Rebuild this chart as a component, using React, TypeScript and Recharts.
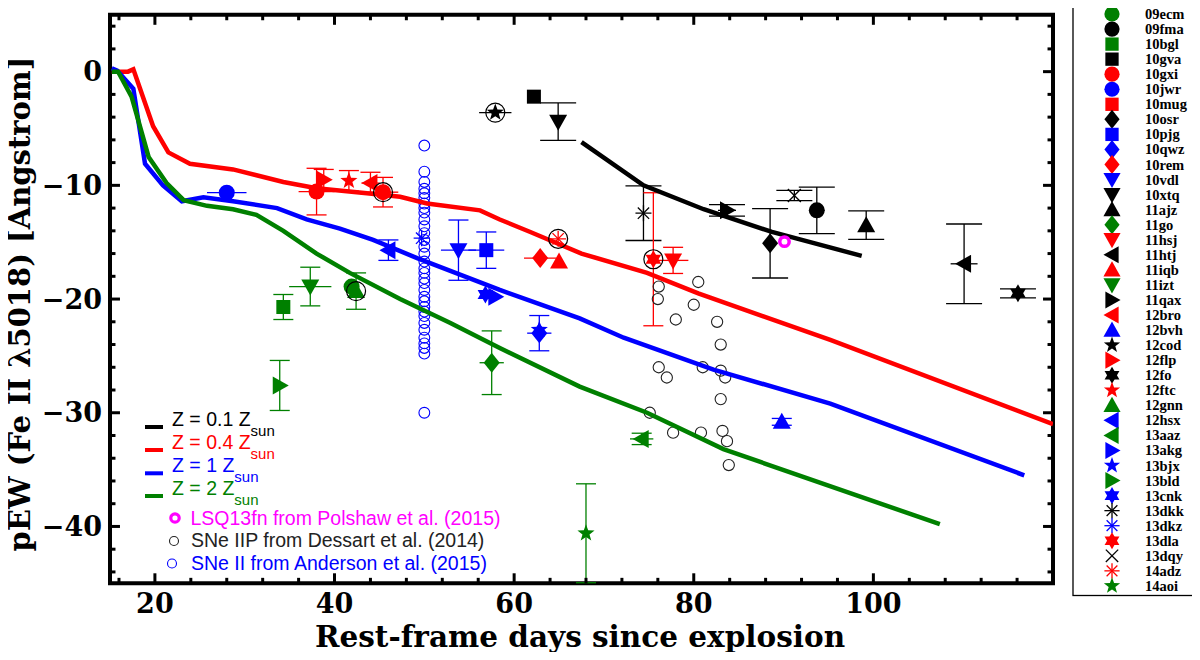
import React from 'react';
import { ComposedChart, Scatter, XAxis, YAxis, ErrorBar, ReferenceLine, ReferenceArea } from 'recharts';

type Pt = { x: number; y: number; ex?: number; ey?: number };

// ---------- axes ----------
const xDomain: [number, number] = [15, 120];
const yDomain: [number, number] = [-45, 5];
const xTicks = [20, 40, 60, 80, 100];
const yTicks = [-40, -30, -20, -10, 0];
const xMinorTicks = [16, 24, 28, 32, 36, 44, 48, 52, 56, 64, 68, 72, 76, 84, 88, 92, 96, 104, 108, 112, 116];
const yMinorTicks = [-44, -42, -38, -36, -34, -32, -28, -26, -24, -22, -18, -16, -14, -12, -8, -6, -4, -2, 2, 4];

// ---------- model curves ----------
const modelZ01: Pt[] = [
  { x: 67.5, y: -6.2 }, { x: 74.4, y: -10.0 }, { x: 81.1, y: -12.1 }, { x: 88.7, y: -14.1 }, { x: 98.7, y: -16.2 },
];
const modelZ04: Pt[] = [
  { x: 15.2, y: 0 }, { x: 17.0, y: 0 }, { x: 17.6, y: 0.2 }, { x: 19.8, y: -4.8 }, { x: 21.5, y: -7.1 },
  { x: 23.9, y: -8.1 }, { x: 28.7, y: -8.6 }, { x: 34.3, y: -9.7 }, { x: 38.0, y: -10.25 }, { x: 43.6, y: -10.7 },
  { x: 47.3, y: -11.0 }, { x: 50.3, y: -11.6 }, { x: 56.2, y: -12.2 }, { x: 58.4, y: -13.0 }, { x: 61.8, y: -14.1 },
  { x: 67.5, y: -16.0 }, { x: 74.8, y: -17.7 }, { x: 80.5, y: -19.5 }, { x: 95.2, y: -23.6 }, { x: 120, y: -31.0 },
];
const modelZ1: Pt[] = [
  { x: 15.2, y: 0.3 }, { x: 15.8, y: 0.1 }, { x: 17.6, y: -1.5 }, { x: 18.9, y: -8.1 }, { x: 20.9, y: -10.0 },
  { x: 23.0, y: -11.4 }, { x: 25.4, y: -11.05 }, { x: 28.7, y: -11.4 }, { x: 33.6, y: -12.0 }, { x: 36.9, y: -13.0 },
  { x: 40.6, y: -13.8 }, { x: 44.3, y: -14.8 }, { x: 49.2, y: -16.4 }, { x: 58.4, y: -19.2 }, { x: 67.3, y: -21.7 },
  { x: 72.2, y: -23.4 }, { x: 82.2, y: -26.2 }, { x: 95.2, y: -29.2 }, { x: 116.8, y: -35.5 },
];
const modelZ2: Pt[] = [
  { x: 15.2, y: 0 }, { x: 15.9, y: 0 }, { x: 17.4, y: -2.2 }, { x: 19.3, y: -7.5 }, { x: 21.3, y: -9.8 },
  { x: 23.2, y: -11.3 }, { x: 25.8, y: -11.8 }, { x: 28.7, y: -12.1 }, { x: 31.3, y: -12.6 }, { x: 34.3, y: -14.0 },
  { x: 38.0, y: -16.0 }, { x: 41.7, y: -17.7 }, { x: 47.3, y: -20.0 }, { x: 52.9, y: -22.1 }, { x: 58.4, y: -24.3 },
  { x: 67.3, y: -27.7 }, { x: 74.8, y: -30.0 }, { x: 83.3, y: -33.2 }, { x: 107.4, y: -39.8 },
];

// ---------- comparison samples ----------
const dessart2014: Pt[] = [
  { x: 76.1, y: -18.9 }, { x: 80.5, y: -18.5 }, { x: 76.0, y: -20.0 }, { x: 80.0, y: -20.5 }, { x: 78.0, y: -21.8 },
  { x: 82.6, y: -22.0 }, { x: 83.0, y: -24.0 }, { x: 76.1, y: -26.0 }, { x: 77.0, y: -26.9 }, { x: 81.0, y: -26.0 },
  { x: 83.0, y: -26.3 }, { x: 83.5, y: -26.9 }, { x: 83.0, y: -28.8 }, { x: 75.1, y: -30.0 }, { x: 77.7, y: -31.75 },
  { x: 80.8, y: -31.75 }, { x: 83.2, y: -31.6 }, { x: 83.7, y: -32.5 }, { x: 83.9, y: -34.6 },
];
const andersonDay = 50;
const anderson2015Values = [
  -6.5, -8.8, -9.7, -10.3, -10.7, -11.1, -11.6, -12.0, -12.4, -13.0, -13.6, -14.2, -14.8, -15.4, -16.0, -16.7,
  -17.3, -17.7, -18.2, -18.6, -19.2, -19.8, -20.2, -20.7, -21.1, -21.5, -22.1, -22.7, -23.4, -23.9, -24.3, -24.8, -30.0,
];
const anderson2015: Pt[] = anderson2015Values.map((v) => ({ x: andersonDay, y: v }));
const lsq13fn: Pt[] = [{ x: 90.1, y: -14.95 }];
const circledPoints: Pt[] = [
  { x: 57.9, y: -3.6 }, { x: 45.4, y: -10.6 }, { x: 64.9, y: -14.7 }, { x: 75.5, y: -16.5 }, { x: 42.4, y: -19.3 },
];

// ---------- individual SNe ----------
const sn09ecm: Pt[] = [{ x: 41.9, y: -18.9 }];
const sn09fma: Pt[] = [{ x: 93.7, y: -12.2, ey: 2.05 }];
const sn10bgl: Pt[] = [{ x: 34.3, y: -20.7, ey: 1.1 }];
const sn10gva: Pt[] = [{ x: 62.2, y: -2.2 }];
const sn10gxi: Pt[] = [{ x: 38.0, y: -10.55, ex: 2.0, ey: 2.05 }, { x: 45.4, y: -10.6, ex: 1.7, ey: 1.3 }];
const sn10jwr: Pt[] = [{ x: 28.0, y: -10.64, ex: 2.2, ey: 0 }];
const sn10mug: Pt[] = [];
const sn10osr: Pt[] = [{ x: 88.5, y: -15.1, ey: 3.05 }];
const sn10pjg: Pt[] = [{ x: 56.9, y: -15.7, ex: 2.0, ey: 1.6 }];
const sn10qwz: Pt[] = [{ x: 62.8, y: -23.0, ex: 1.35, ey: 1.55 }];
const sn10rem: Pt[] = [{ x: 62.9, y: -16.4, ex: 1.8, ey: 0 }];
const sn10vdl: Pt[] = [{ x: 53.8, y: -15.7, ex: 1.95, ey: 2.65 }];
const sn10xtq: Pt[] = [{ x: 64.9, y: -4.4, ey: 1.65 }];
const sn11ajz: Pt[] = [{ x: 99.2, y: -13.5, ey: 1.25 }];
const sn11go: Pt[] = [{ x: 57.5, y: -25.6, ex: 1.35, ey: 2.8 }];
const sn11hsj: Pt[] = [{ x: 77.7, y: -16.6, ex: 1.7, ey: 1.15 }];
const sn11htj: Pt[] = [{ x: 110.1, y: -16.9, ex: 1.5, ey: 3.5 }];
const sn11iqb: Pt[] = [{ x: 65.0, y: -16.7 }];
const sn11izt: Pt[] = [{ x: 37.3, y: -18.9, ex: 2.35, ey: 1.7 }];
const sn11qax: Pt[] = [{ x: 83.7, y: -12.2, ex: 1.0, ey: 0.5 }];
const sn12bro: Pt[] = [{ x: 44.0, y: -9.8, ex: 1.0, ey: 0.95 }];
const sn12bvh: Pt[] = [{ x: 89.8, y: -30.8, ey: 0.3 }];
const sn12cod: Pt[] = [{ x: 57.9, y: -3.6, ex: 1.8, ey: 0 }];
const sn12flp: Pt[] = [{ x: 38.8, y: -9.5, ey: 0.9 }];
const sn12fo: Pt[] = [{ x: 116.1, y: -19.5, ey: 0.4 }];
const sn12ftc: Pt[] = [{ x: 41.6, y: -9.6, ey: 0.9 }];
const sn12gnn: Pt[] = [{ x: 42.4, y: -19.3, ey: 1.6 }];
const sn12hsx: Pt[] = [{ x: 46.0, y: -15.7, ey: 0.9 }];
const sn13aaz: Pt[] = [{ x: 74.2, y: -32.3, ex: 1.3, ey: 0.5 }];
const sn13akg: Pt[] = [{ x: 57.9, y: -19.8 }];
const sn13bjx: Pt[] = [{ x: 62.8, y: -22.7 }];
const sn13bld: Pt[] = [{ x: 33.9, y: -27.6, ey: 2.2 }];
const sn13cnk: Pt[] = [{ x: 56.8, y: -19.6 }];
const sn13dkk: Pt[] = [{ x: 74.4, y: -12.45, ey: 2.4 }];
const sn13dkz: Pt[] = [{ x: 49.7, y: -14.65 }];
const sn13dla: Pt[] = [{ x: 75.5, y: -16.5, ey: 5.85 }];
const sn13dqy: Pt[] = [{ x: 91.2, y: -10.9, ey: 0.45 }];
const sn14adz: Pt[] = [{ x: 64.9, y: -14.7 }];
const sn14aoi: Pt[] = [{ x: 68.0, y: -40.6, ey: 4.35 }];

const K = '#000000';
const R = '#ff0000';
const B = '#0000ff';
const G = '#008000';
const M = '#ff00ff';

type Sym = 'circle' | 'square' | 'diamond' | 'tdown' | 'tup' | 'tleft' | 'tright' | 'star' | 'hex' | 'aster' | 'cross';
type SN = { name: string; color: string; sym: Sym; data: Pt[] };

const snList: SN[] = [
  { name: '09ecm', color: G, sym: 'circle', data: sn09ecm },
  { name: '09fma', color: K, sym: 'circle', data: sn09fma },
  { name: '10bgl', color: G, sym: 'square', data: sn10bgl },
  { name: '10gva', color: K, sym: 'square', data: sn10gva },
  { name: '10gxi', color: R, sym: 'circle', data: sn10gxi },
  { name: '10jwr', color: B, sym: 'circle', data: sn10jwr },
  { name: '10mug', color: R, sym: 'square', data: sn10mug },
  { name: '10osr', color: K, sym: 'diamond', data: sn10osr },
  { name: '10pjg', color: B, sym: 'square', data: sn10pjg },
  { name: '10qwz', color: B, sym: 'diamond', data: sn10qwz },
  { name: '10rem', color: R, sym: 'diamond', data: sn10rem },
  { name: '10vdl', color: B, sym: 'tdown', data: sn10vdl },
  { name: '10xtq', color: K, sym: 'tdown', data: sn10xtq },
  { name: '11ajz', color: K, sym: 'tup', data: sn11ajz },
  { name: '11go', color: G, sym: 'diamond', data: sn11go },
  { name: '11hsj', color: R, sym: 'tdown', data: sn11hsj },
  { name: '11htj', color: K, sym: 'tleft', data: sn11htj },
  { name: '11iqb', color: R, sym: 'tup', data: sn11iqb },
  { name: '11izt', color: G, sym: 'tdown', data: sn11izt },
  { name: '11qax', color: K, sym: 'tright', data: sn11qax },
  { name: '12bro', color: R, sym: 'tleft', data: sn12bro },
  { name: '12bvh', color: B, sym: 'tup', data: sn12bvh },
  { name: '12cod', color: K, sym: 'star', data: sn12cod },
  { name: '12flp', color: R, sym: 'tright', data: sn12flp },
  { name: '12fo', color: K, sym: 'hex', data: sn12fo },
  { name: '12ftc', color: R, sym: 'star', data: sn12ftc },
  { name: '12gnn', color: G, sym: 'tup', data: sn12gnn },
  { name: '12hsx', color: B, sym: 'tleft', data: sn12hsx },
  { name: '13aaz', color: G, sym: 'tleft', data: sn13aaz },
  { name: '13akg', color: B, sym: 'tright', data: sn13akg },
  { name: '13bjx', color: B, sym: 'star', data: sn13bjx },
  { name: '13bld', color: G, sym: 'tright', data: sn13bld },
  { name: '13cnk', color: B, sym: 'hex', data: sn13cnk },
  { name: '13dkk', color: K, sym: 'aster', data: sn13dkk },
  { name: '13dkz', color: B, sym: 'aster', data: sn13dkz },
  { name: '13dla', color: R, sym: 'hex', data: sn13dla },
  { name: '13dqy', color: K, sym: 'cross', data: sn13dqy },
  { name: '14adz', color: R, sym: 'aster', data: sn14adz },
  { name: '14aoi', color: G, sym: 'star', data: sn14aoi },
];

const FONT_SERIF = '"DejaVu Serif", serif';
const FONT_LEGEND = '"Liberation Serif", "Times New Roman", serif';
const FONT_SANS = '"Liberation Sans", Arial, sans-serif';

const pts = (cx: number, cy: number, arr: number[][], k: number) =>
  arr.map(([dx, dy]) => `${cx + dx * k},${cy + dy * k}`).join(' ');

function starPts(n: number, ro: number, ri: number): number[][] {
  const out: number[][] = [];
  for (let i = 0; i < 2 * n; i++) {
    const a = (-90 + (i * 180) / n) * (Math.PI / 180);
    const r = i % 2 === 0 ? ro : ri;
    out.push([r * Math.cos(a), r * Math.sin(a)]);
  }
  return out;
}

function Marker({ sym, cx, cy, color, k = 1 }: { sym: Sym; cx: number; cy: number; color: string; k?: number }) {
  switch (sym) {
    case 'circle':
      return <circle cx={cx} cy={cy} r={8 * k} fill={color} />;
    case 'square':
      return <rect x={cx - 7 * k} y={cy - 7 * k} width={14 * k} height={14 * k} fill={color} />;
    case 'diamond':
      return <polygon points={pts(cx, cy, [[0, -10], [8, 0], [0, 10], [-8, 0]], k)} fill={color} />;
    case 'tdown':
      return <polygon points={pts(cx, cy, [[-9, -7], [9, -7], [0, 9]], k)} fill={color} />;
    case 'tup':
      return <polygon points={pts(cx, cy, [[-9, 7], [9, 7], [0, -9]], k)} fill={color} />;
    case 'tleft':
      return <polygon points={pts(cx, cy, [[7, -9], [7, 9], [-9, 0]], k)} fill={color} />;
    case 'tright':
      return <polygon points={pts(cx, cy, [[-7, -9], [-7, 9], [9, 0]], k)} fill={color} />;
    case 'star':
      return <polygon points={pts(cx, cy, starPts(5, 9, 3.7), k)} fill={color} />;
    case 'hex':
      return (
        <g fill={color}>
          <polygon points={pts(cx, cy, [[0, -9], [7.8, 4.5], [-7.8, 4.5]], k)} />
          <polygon points={pts(cx, cy, [[0, 9], [7.8, -4.5], [-7.8, -4.5]], k)} />
        </g>
      );
    case 'aster': {
      const r = 8 * k;
      const d = r * 0.7071;
      return (
        <g stroke={color} strokeWidth={1.3}>
          <line x1={cx - r} y1={cy} x2={cx + r} y2={cy} />
          <line x1={cx} y1={cy - r} x2={cx} y2={cy + r} />
          <line x1={cx - d} y1={cy - d} x2={cx + d} y2={cy + d} />
          <line x1={cx - d} y1={cy + d} x2={cx + d} y2={cy - d} />
        </g>
      );
    }
    case 'cross': {
      const d = 6.5 * k;
      return (
        <g stroke={color} strokeWidth={1.3}>
          <line x1={cx - d} y1={cy - d} x2={cx + d} y2={cy + d} />
          <line x1={cx - d} y1={cy + d} x2={cx + d} y2={cy - d} />
        </g>
      );
    }
  }
  return <g />;
}

const noShape = () => <g />;
const MAJ_X = 1.11, MIN_X = 0.61, MAJ_Y = 0.88, MIN_Y = 0.48;

const fmtY = (v: number) => (v < 0 ? '\u2212' + Math.abs(v) : String(v));

function RightLegend() {
  const top = 14;
  const step = 15.05;
  return (
    <g>
      <rect x={1073} y={1.5} width={124} height={594} fill="#fff" stroke="#000" strokeWidth={1.3} />
      {snList.map((s, i) => {
        const cy = top + i * step;
        return (
          <g key={s.name}>
            <Marker sym={s.sym} cx={1112} cy={cy} color={s.color} k={0.95} />
            <text x={1145} y={cy + 5} fontFamily={FONT_LEGEND} fontWeight="bold" fontSize={14.5} fill="#000">
              {s.name}
            </text>
          </g>
        );
      })}
    </g>
  );
}

const modelLegend = [
  { label: 'Z = 0.1 Z', color: K, y: 427 },
  { label: 'Z = 0.4 Z', color: R, y: 450 },
  { label: 'Z = 1 Z', color: B, y: 473.3 },
  { label: 'Z = 2 Z', color: G, y: 496 },
];

function LeftLegend() {
  return (
    <g fontFamily={FONT_SANS}>
      {modelLegend.map((m) => (
        <g key={m.label}>
          <line x1={145} y1={m.y} x2={163} y2={m.y} stroke={m.color} strokeWidth={4} />
          <text x={172} y={m.y - 1.5} fontSize={19.5} fill={m.color}>
            {m.label}
            <tspan dy={10} fontSize={15}>sun</tspan>
          </text>
        </g>
      ))}
      <circle cx={175} cy={518} r={4.2} fill="none" stroke={M} strokeWidth={3.2} />
      <text x={190.5} y={524.5} fontSize={19.5} fill={M}>LSQ13fn from Polshaw et al. (2015)</text>
      <circle cx={174} cy={541} r={4.5} fill="none" stroke="#222" strokeWidth={1.1} />
      <text x={191} y={547} fontSize={19.5} fill="#222">SNe IIP from Dessart et al. (2014)</text>
      <circle cx={172} cy={563.5} r={4.5} fill="none" stroke={B} strokeWidth={1.1} />
      <text x={191} y={569.5} fontSize={19.5} fill={B}>SNe II from Anderson et al. (2015)</text>
    </g>
  );
}

export default function App() {
  return (
    <div style={{ margin: '-8px', width: 1200, height: 660, position: 'relative', overflow: 'hidden', background: '#fff' }}>
      <ComposedChart width={1200} height={660} margin={{ top: 14.8, right: 147, bottom: 16.7, left: 10 }}>
        <XAxis
          type="number"
          dataKey="x"
          domain={xDomain}
          allowDataOverflow
          ticks={xTicks}
          interval={0}
          height={60}
          tickSize={0}
          tickMargin={11}
          tickLine={false}
          axisLine={false}
          tick={{ fontSize: 27, fontFamily: FONT_SERIF, fontWeight: 'bold', fill: '#000' }}
        />
        <YAxis
          type="number"
          dataKey="y"
          domain={yDomain}
          allowDataOverflow
          ticks={yTicks}
          interval={0}
          width={100}
          tickSize={0}
          tickMargin={8}
          tickLine={false}
          axisLine={false}
          tickFormatter={fmtY}
          tick={{ fontSize: 27, fontFamily: FONT_SERIF, fontWeight: 'bold', fill: '#000' }}
        />

        <Scatter
          data={anderson2015}
          isAnimationActive={false}
          shape={(p: any) => <circle cx={p.cx} cy={p.cy} r={5.4} fill="none" stroke={B} strokeWidth={1.1} />}
        />
        <Scatter
          data={dessart2014}
          isAnimationActive={false}
          shape={(p: any) => <circle cx={p.cx} cy={p.cy} r={5.6} fill="none" stroke="#222" strokeWidth={1.1} />}
        />

        <Scatter data={modelZ01} isAnimationActive={false} fill={K} line={{ stroke: K, strokeWidth: 4.5 }} shape={noShape} />
        <Scatter data={modelZ04} isAnimationActive={false} fill={R} line={{ stroke: R, strokeWidth: 4.5 }} shape={noShape} />
        <Scatter data={modelZ1} isAnimationActive={false} fill={B} line={{ stroke: B, strokeWidth: 4.5 }} shape={noShape} />
        <Scatter data={modelZ2} isAnimationActive={false} fill={G} line={{ stroke: G, strokeWidth: 4.5 }} shape={noShape} />

        {snList
          .filter((s) => s.data.length > 0)
          .map((s) => {
            const hasY = s.data.some((d) => d.ey !== undefined);
            const hasX = s.data.some((d) => d.ex !== undefined);
            const cap = s.color === K ? 18 : 10;
            return (
              <Scatter
                key={s.name}
                name={s.name}
                data={s.data.map((d) => ({ ...d, ex: d.ex ?? 0, ey: d.ey ?? 0 }))}
                isAnimationActive={false}
                fill={s.color}
                shape={(p: any) => <Marker sym={s.sym} cx={p.cx} cy={p.cy} color={s.color} />}
              >
                {hasY && (
                  <ErrorBar dataKey="ey" direction="y" width={cap} stroke={s.color} strokeWidth={1.3} isAnimationActive={false} />
                )}
                {hasX && (
                  <ErrorBar dataKey="ex" direction="x" width={0} stroke={s.color} strokeWidth={1.3} isAnimationActive={false} />
                )}
              </Scatter>
            );
          })}

        <Scatter
          data={circledPoints}
          isAnimationActive={false}
          shape={(p: any) => <circle cx={p.cx} cy={p.cy} r={9.5} fill="none" stroke="#000" strokeWidth={1.2} />}
        />
        <Scatter
          data={lsq13fn}
          isAnimationActive={false}
          shape={(p: any) => <circle cx={p.cx} cy={p.cy} r={4.7} fill="none" stroke={M} strokeWidth={3.5} />}
        />

        {xTicks.map((t) => (
          <ReferenceLine key={'xb' + t} segment={[{ x: t, y: yDomain[0] }, { x: t, y: yDomain[0] + MAJ_Y }]} stroke="#000" strokeWidth={3} ifOverflow="visible" />
        ))}
        {xTicks.map((t) => (
          <ReferenceLine key={'xt' + t} segment={[{ x: t, y: yDomain[1] }, { x: t, y: yDomain[1] - MAJ_Y }]} stroke="#000" strokeWidth={3} ifOverflow="visible" />
        ))}
        {xMinorTicks.map((t) => (
          <ReferenceLine key={'xbm' + t} segment={[{ x: t, y: yDomain[0] }, { x: t, y: yDomain[0] + MIN_Y }]} stroke="#000" strokeWidth={3} ifOverflow="visible" />
        ))}
        {xMinorTicks.map((t) => (
          <ReferenceLine key={'xtm' + t} segment={[{ x: t, y: yDomain[1] }, { x: t, y: yDomain[1] - MIN_Y }]} stroke="#000" strokeWidth={3} ifOverflow="visible" />
        ))}
        {yTicks.map((t) => (
          <ReferenceLine key={'yl' + t} segment={[{ x: xDomain[0], y: t }, { x: xDomain[0] + MAJ_X, y: t }]} stroke="#000" strokeWidth={3} ifOverflow="visible" />
        ))}
        {yTicks.map((t) => (
          <ReferenceLine key={'yr' + t} segment={[{ x: xDomain[1], y: t }, { x: xDomain[1] - MAJ_X, y: t }]} stroke="#000" strokeWidth={3} ifOverflow="visible" />
        ))}
        {yMinorTicks.map((t) => (
          <ReferenceLine key={'ylm' + t} segment={[{ x: xDomain[0], y: t }, { x: xDomain[0] + MIN_X, y: t }]} stroke="#000" strokeWidth={3} ifOverflow="visible" />
        ))}
        {yMinorTicks.map((t) => (
          <ReferenceLine key={'yrm' + t} segment={[{ x: xDomain[1], y: t }, { x: xDomain[1] - MIN_X, y: t }]} stroke="#000" strokeWidth={3} ifOverflow="visible" />
        ))}
        <ReferenceArea
          x1={xDomain[0]}
          x2={xDomain[1]}
          y1={yDomain[0]}
          y2={yDomain[1]}
          fill="none"
          fillOpacity={0}
          stroke="#000"
          strokeWidth={4}
          ifOverflow="visible"
        />
      </ComposedChart>

      <svg width={1200} height={660} style={{ position: 'absolute', left: 0, top: 0, pointerEvents: 'none' }}>
        <LeftLegend />
        <RightLegend />
        <text
          transform="translate(30,304) rotate(-90)"
          textAnchor="middle"
          fontFamily={FONT_SERIF}
          fontWeight="bold"
          fontSize={29}
          fill="#000"
        >
          pEW (Fe II λ5018) [Angstrom]
        </text>
        <text x={580} y={647} textAnchor="middle" fontFamily={FONT_SERIF} fontWeight="bold" fontSize={29.5} fill="#000">
          Rest-frame days since explosion
        </text>
      </svg>
    </div>
  );
}
